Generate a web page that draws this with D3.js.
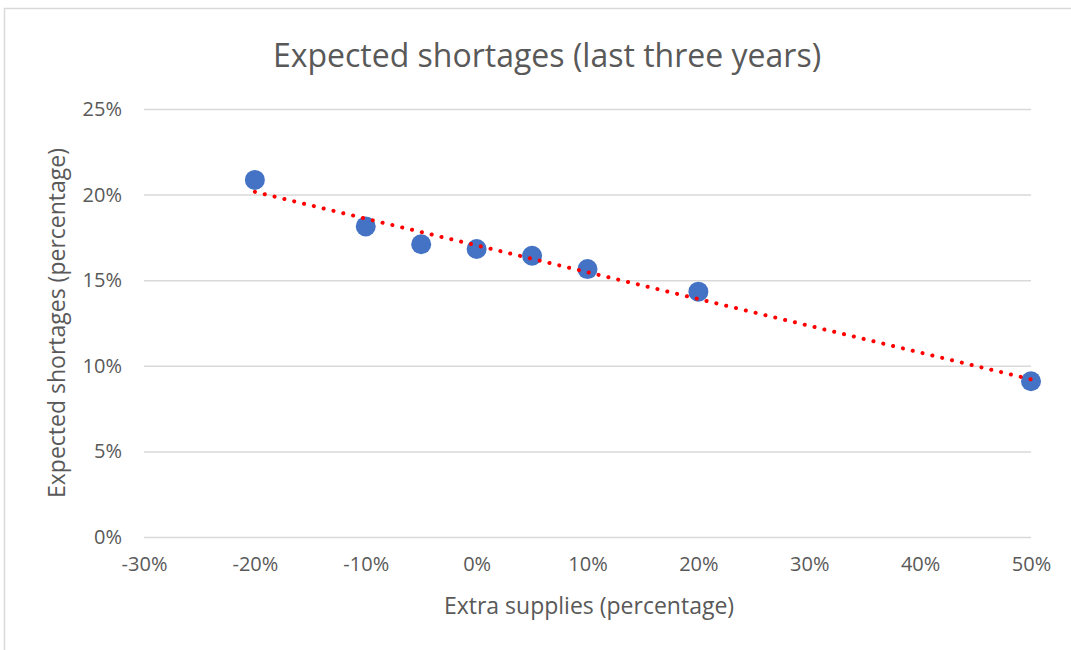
<!DOCTYPE html>
<html>
<head>
<meta charset="utf-8">
<script src="https://cdn.jsdelivr.net/npm/d3@7"></script>
<style>
  html, body { margin: 0; padding: 0; background: #fff; }
  svg text { font-family: "Open Sans", Lato, sans-serif; fill: #595959; }
</style>
</head>
<body>
<div id="chart"></div>
<script>
// values (fractions)
const extraSupplies = [-0.20, -0.10, -0.05, 0.00, 0.05, 0.10, 0.20, 0.50];
const expectedShortages = [0.2086, 0.1814, 0.1710, 0.1682, 0.1643, 0.1565, 0.1433, 0.0910];
const xTicks = [-0.3, -0.2, -0.1, 0, 0.1, 0.2, 0.3, 0.4, 0.5];
const yTicks = [0, 0.05, 0.10, 0.15, 0.20, 0.25];

const width = 1071, height = 650;
const margins = { left: 144, right: 40, top: 109, bottom: 113 };

const svg = d3.select("#chart").append("svg")
    .attr("width", width)
    .attr("height", height);

// outer chart border (cropped at right/bottom)
svg.append("rect")
    .attr("x", 4.5).attr("y", 8.5)
    .attr("width", width + 10).attr("height", height + 10)
    .attr("fill", "none")
    .attr("stroke", "#d9d9d9")
    .attr("stroke-width", 1.5);

const x = d3.scaleLinear().domain([-0.3, 0.5]).range([margins.left, width - margins.right]);
const y = d3.scaleLinear().domain([0, 0.25]).range([height - margins.bottom, margins.top]);
// excel uses a plain hyphen for negatives
const pct = v => d3.format(".0%")(v).replace("\u2212", "-");

// gridlines + y labels
const yAxis = d3.axisLeft(y)
    .tickValues(yTicks)
    .tickFormat(pct)
    .tickSize(-(x.range()[1] - x.range()[0]))
    .tickPadding(22);

const yG = svg.append("g")
    .attr("transform", `translate(${margins.left},0)`)
    .call(yAxis);
yG.select(".domain").remove();
yG.selectAll(".tick line").attr("stroke", "#d9d9d9").attr("stroke-width", 1.5);
yG.selectAll(".tick text").style("font-size", "20px").attr("fill", "#595959");

const xAxis = d3.axisBottom(x)
    .tickValues(xTicks)
    .tickFormat(pct)
    .tickSize(0)
    .tickPadding(20);

const xG = svg.append("g")
    .attr("transform", `translate(0,${y(0)})`)
    .call(xAxis);
xG.select(".domain").remove();
xG.selectAll(".tick text").style("font-size", "20px").attr("fill", "#595959");

// markers
const pts = extraSupplies.map((v, i) => ({ x: v, y: expectedShortages[i] }));
svg.append("g").selectAll("circle")
    .data(pts)
    .join("circle")
    .attr("cx", d => x(d.x))
    .attr("cy", d => y(d.y))
    .attr("r", 10)
    .attr("fill", "#4472c4");

// linear trendline (least squares over the points)
const mx = d3.mean(extraSupplies), my = d3.mean(expectedShortages);
const slope = d3.sum(pts, d => (d.x - mx) * (d.y - my)) / d3.sum(pts, d => (d.x - mx) ** 2);
const icpt = my - slope * mx;
const xExt = d3.extent(extraSupplies);

svg.append("line")
    .attr("x1", x(xExt[0])).attr("y1", y(icpt + slope * xExt[0]))
    .attr("x2", x(xExt[1])).attr("y2", y(icpt + slope * xExt[1]))
    .attr("stroke", "#ff0000")
    .attr("stroke-width", 4)
    .attr("stroke-linecap", "round")
    .attr("stroke-dasharray", "0.1 10");

// titles
svg.append("text")
    .attr("x", 547).attr("y", 67)
    .attr("text-anchor", "middle")
    .style("font-size", "32px")
    .text("Expected shortages (last three years)");

svg.append("text")
    .attr("x", 589).attr("y", 614)
    .attr("text-anchor", "middle")
    .style("font-size", "23px")
    .text("Extra supplies (percentage)");

svg.append("text")
    .attr("transform", `translate(65,${(y(0) + y(0.25)) / 2}) rotate(-90)`)
    .attr("text-anchor", "middle")
    .style("font-size", "23px")
    .text("Expected shortages (percentage)");
</script>
</body>
</html>
